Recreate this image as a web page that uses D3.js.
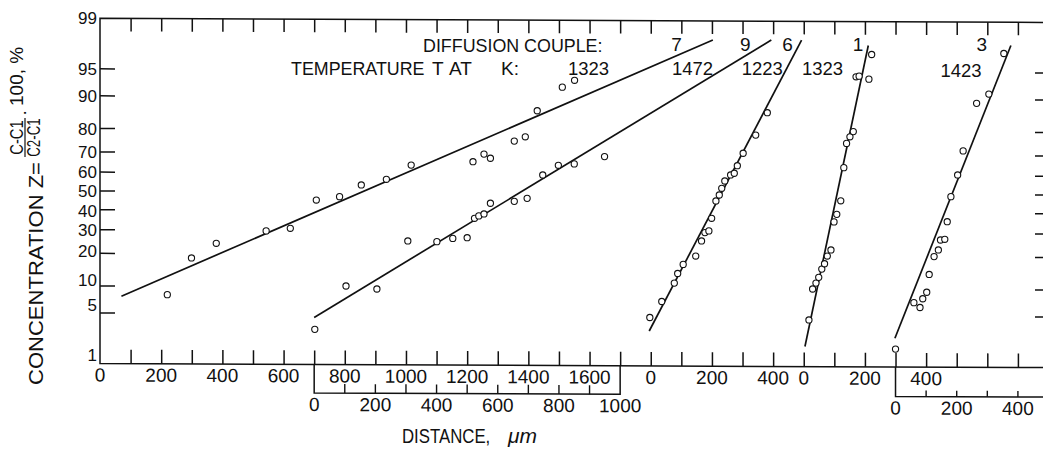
<!DOCTYPE html>
<meta charset="utf-8">
<style>
    body {
        margin: 0;
        background-color: #fff;
    }

    svg text {
        font-family: "Liberation Sans", Arial, sans-serif;
        fill: #111;
    }

    .frame {
        fill: none;
        stroke: #111;
        stroke-width: 1.5px;
    }

    .fit {
        fill: none;
        stroke: #111;
        stroke-width: 1.7px;
    }

    .pt {
        fill: #fff;
        stroke: #111;
        stroke-width: 1.1px;
    }
</style>

<body>
    <svg width="1043" height="454"></svg>
</body>
<script src="https://d3js.org/d3.v7.min.js"></script>
<script>
    // couples and their temperatures (K)
    var couples = ["7", "9", "6", "1", "3"];
    var temps = ["1323", "1472", "1223", "1323", "1423"];

    // where each couple's distance axis starts on the long axis (um)
    var axisStart = [0, 700, 1800, 2300, 2600];

    // measured points [distance um, Z %]
    var couple7 = [[220, 8.1], [299, 18.3], [380, 24.0], [543, 29.5], [622, 30.7], [707, 45.1], [783, 46.9],
        [854, 53.2], [936, 56.2], [1017, 63.6], [1219, 65.3], [1255, 69.0], [1276, 67.0], [1354, 74.9],
        [1390, 76.7], [1429, 86.0], [1511, 91.9], [1551, 93.2]];
    var couple9 = [[2, 3.1], [104, 10.0], [205, 9.3], [306, 25.0], [401, 24.7], [453, 26.1], [500, 26.4],
        [524, 35.6], [538, 36.8], [555, 37.8], [576, 43.4], [654, 44.4], [696, 46.0], [747, 58.5],
        [798, 63.5], [850, 64.2], [949, 67.8]];
    var couple6 = [[-3, 4.4], [36, 6.8], [77, 10.7], [88, 13.3], [106, 16.1], [147, 19.0], [166, 25.0],
        [177, 28.7], [190, 29.5], [199, 35.6], [213, 44.6], [224, 47.8], [232, 51.4], [242, 55.3],
        [261, 58.5], [273, 59.4], [283, 63.3], [302, 69.4], [343, 77.4], [381, 85.4]];
    var couple1 = [[17, 4.1], [29, 9.3], [40, 10.7], [49, 12.2], [59, 14.6], [68, 16.3], [77, 19.0],
        [89, 21.3], [99, 33.8], [108, 37.6], [121, 44.7], [131, 62.3], [140, 73.9], [151, 76.7],
        [162, 78.8], [171, 93.8], [181, 93.9], [213, 93.4], [222, 96.7]];
    var couple3 = [[0, 1.65], [60, 6.6], [80, 5.8], [89, 7.3], [102, 8.6], [110, 13.0], [126, 18.8],
        [140, 21.3], [147, 25.4], [161, 25.7], [169, 33.9], [181, 46.9], [203, 58.5], [221, 70.5],
        [265, 88.1], [305, 90.4], [354, 96.8]];

    // straight lines drawn through each set
    var fit7 = [[70, 7.8], [2003, 97.9]];
    var fit9 = [[0, 4.4], [1494, 97.9]];
    var fit6 = [[-5, 2.95], [493, 97.9]];
    var fit1 = [[4, 1.8], [211, 97.5]];
    var fit3 = [[-2, 2.35], [377, 97.5]];

    // tick labels
    var yTicks = [1, 5, 10, 20, 30, 40, 50, 60, 70, 80, 90, 95, 99];
    var mainLabels = [[0, [0, 200, 400, 600, 800, 1000, 1200, 1400, 1600]], [1800, [0, 200, 400]], [2300, [0, 200, 400]]];
    var lowerLabels = [[700, [0, 200, 400, 600, 800, 1000]], [2600, [0, 200, 400]]];

    var points = [couple7, couple9, couple6, couple1, couple3];
    var fits = [fit7, fit9, fit6, fit1, fit3];

    // inverse normal cdf (Acklam)
    function probit(p) {
        var a = [-3.969683028665376e+01, 2.209460984245205e+02, -2.759285104469687e+02, 1.383577518672690e+02, -3.066479806614716e+01, 2.506628277459239e+00],
            b = [-5.447609879822406e+01, 1.615858368580409e+02, -1.556989798598866e+02, 6.680131188771972e+01, -1.328068155288572e+01],
            c = [-7.784894002430293e-03, -3.223964580411365e-01, -2.400758277161838e+00, -2.549732539343734e+00, 4.374664141464968e+00, 2.938163982698783e+00],
            d = [7.784695709041462e-03, 3.224671290700398e-01, 2.445134137142996e+00, 3.754408661907416e+00];
        var q, r;
        if (p < 0.02425) {
            q = Math.sqrt(-2 * Math.log(p));
            return (((((c[0] * q + c[1]) * q + c[2]) * q + c[3]) * q + c[4]) * q + c[5]) / ((((d[0] * q + d[1]) * q + d[2]) * q + d[3]) * q + 1);
        }
        if (p > 1 - 0.02425) {
            q = Math.sqrt(-2 * Math.log(1 - p));
            return -(((((c[0] * q + c[1]) * q + c[2]) * q + c[3]) * q + c[4]) * q + c[5]) / ((((d[0] * q + d[1]) * q + d[2]) * q + d[3]) * q + 1);
        }
        q = p - 0.5;
        r = q * q;
        return (((((a[0] * r + a[1]) * r + a[2]) * r + a[3]) * r + a[4]) * r + a[5]) * q / (((((b[0] * r + b[1]) * r + b[2]) * r + b[3]) * r + b[4]) * r + 1);
    }

    var svg = d3.select("svg");

    var x = d3.scaleLinear().domain([0, 3082]).range([100, 1043]);
    var yz = d3.scaleLinear().domain([probit(0.01), probit(0.99)]).range([363.5, 18.3]);
    var y = function(p) { return yz(probit(p / 100)); };

    var yTop = y(99), yBottom = y(1);

    // the printed frame sits very slightly askew on the page
    var axes = svg.append("g")
        .attr("transform", "translate(100,0) skewY(0.25) translate(-100,0)");

    // frame: left axis, top and bottom lines
    axes.append("path")
        .attr("class", "frame")
        .attr("d", "M1043," + yTop + "H" + x(0) + "V" + yBottom + "H1043");

    var mainTicks = d3.range(100, 3001, 100);

    // bottom ticks (up) and top ticks (down)
    axes.append("g").attr("transform", "translate(0," + yBottom + ")")
        .call(d3.axisTop(x).tickValues(mainTicks).tickSize(14).tickSizeOuter(0).tickFormat(""))
        .call(function(g) { g.select(".domain").remove(); })
        .selectAll("line").attr("stroke", "#111").attr("stroke-width", 1.5);

    axes.append("g").attr("transform", "translate(0," + yTop + ")")
        .call(d3.axisBottom(x).tickValues(mainTicks).tickSize(13).tickSizeOuter(0).tickFormat(""))
        .call(function(g) { g.select(".domain").remove(); })
        .selectAll("line").attr("stroke", "#111").attr("stroke-width", 1.5);

    // lower brackets for couples 9 and 3
    var lowerY = [392, 393];
    var lowerEnd = [1700, 3082];
    var lowerTick = [9, 6];
    lowerLabels.forEach(function(l, i) {
        var x0 = l[0], x1 = lowerEnd[i], ly = lowerY[i];
        var dd = "M" + x(x0) + "," + yBottom + "V" + ly + "H" + x(x1);
        if (x1 < 3000) dd += "V" + yBottom;
        axes.append("path").attr("class", "frame").attr("d", dd);
        axes.append("g").selectAll("line")
            .data(d3.range(x0 + 100, Math.min(x1, 3000) + 1, 100).filter(function(v) { return v < x1; }))
            .enter().append("line")
            .attr("x1", function(d) { return x(d); }).attr("x2", function(d) { return x(d); })
            .attr("y1", ly).attr("y2", ly - lowerTick[i])
            .attr("stroke", "#111").attr("stroke-width", 1.4);
        axes.append("g").selectAll("text")
            .data(l[1]).enter().append("text")
            .attr("x", function(d) { return x(x0 + d); })
            .attr("y", ly + 18)
            .attr("text-anchor", "middle")
            .style("font-size", "19px")
            .text(function(d) { return d; });
    });

    mainLabels.forEach(function(l) {
        axes.append("g").selectAll("text")
            .data(l[1]).enter().append("text")
            .attr("x", function(d) { return x(l[0] + d); })
            .attr("y", yBottom + 18)
            .attr("text-anchor", "middle")
            .style("font-size", "19px")
            .text(function(d) { return d; });
    });

    // y ticks both sides
    var inner = yTicks.filter(function(p) { return p > 1 && p < 99; });
    axes.append("g").selectAll("line").data(inner).enter().append("line")
        .attr("x1", x(0)).attr("x2", x(0) + 15)
        .attr("y1", y).attr("y2", y)
        .attr("stroke", "#111").attr("stroke-width", 1.5);
    axes.append("g").selectAll("line").data(inner).enter().append("line")
        .attr("x1", 1035).attr("x2", 1043)
        .attr("y1", y).attr("y2", y)
        .attr("stroke", "#111").attr("stroke-width", 1.5);

    // labels in the crowded middle are spread a touch so they don't collide
    var nudge = { 1: -9, 5: -8, 10: -6, 20: -2, 60: -0.7, 40: 0.7 };
    svg.append("g").selectAll("text").data(yTicks).enter().append("text")
        .attr("x", 97)
        .attr("y", function(d) { return y(d) + (nudge[d] || 0); })
        .attr("dy", "0.36em")
        .attr("text-anchor", "end")
        .style("font-size", "17px")
        .text(function(d) { return d; });

    // fitted lines and points
    var line = d3.line()
        .x(function(d) { return d[0]; })
        .y(function(d) { return d[1]; });

    fits.forEach(function(f, i) {
        svg.append("path")
            .attr("class", "fit")
            .attr("d", line(f.map(function(d) { return [x(axisStart[i] + d[0]), y(d[1])]; })));
    });

    points.forEach(function(ps, i) {
        svg.append("g").selectAll("circle").data(ps).enter().append("circle")
            .attr("class", "pt")
            .attr("cx", function(d) { return x(axisStart[i] + d[0]); })
            .attr("cy", function(d) { return y(d[1]); })
            .attr("r", 3.1);
    });

    // narrow lettering: squeeze horizontally around the start point
    function narrow(tx, ty, sx, size, str) {
        return svg.append("text")
            .attr("transform", "translate(" + tx + "," + ty + ") scale(" + sx + ",1)")
            .style("font-size", size)
            .text(str);
    }

    // legend block
    narrow(423, 52, 0.94, "19px", "DIFFUSION COUPLE:");
    narrow(291, 75, 0.94, "19px", "TEMPERATURE");
    svg.append("text").attr("x", 432).attr("y", 75).style("font-size", "19px").text("T");
    svg.append("text").attr("x", 449).attr("y", 75).style("font-size", "19px").text("AT");
    svg.append("text").attr("x", 501).attr("y", 75).style("font-size", "19px").text("K:");

    var coupleX = [676.5, 745.3, 787.5, 858, 981.8];
    var tempX = [588.5, 692.5, 762.3, 822.5, 961];
    svg.append("g").selectAll("text").data(couples).enter().append("text")
        .attr("x", function(d, i) { return coupleX[i]; })
        .attr("y", 51)
        .attr("text-anchor", "middle")
        .style("font-size", "19px")
        .text(function(d) { return d; });
    svg.append("g").selectAll("text").data(temps).enter().append("text")
        .attr("x", function(d, i) { return tempX[i]; })
        .attr("y", function(d, i) { return i === 4 ? 76.5 : 75; })
        .attr("text-anchor", "middle")
        .style("font-size", "18.5px")
        .text(function(d) { return d; });

    // y title
    var yt = svg.append("g").attr("transform", "translate(43,385) rotate(-90)");
    yt.append("text").attr("x", 0).attr("y", 0).style("font-size", "21px")
        .attr("textLength", 223).attr("lengthAdjust", "spacingAndGlyphs").text("CONCENTRATION Z=");
    yt.append("line").attr("x1", 228).attr("x2", 267).attr("y1", -18).attr("y2", -18)
        .attr("stroke", "#111").attr("stroke-width", 1.2);
    yt.append("text").attr("transform", "translate(247.5,-20) scale(0.82,1)")
        .attr("text-anchor", "middle").style("font-size", "18px").text("C-C1");
    yt.append("text").attr("transform", "translate(247.5,-3) scale(0.74,1)")
        .attr("text-anchor", "middle").style("font-size", "18px").text("C2-C1");
    yt.append("text").attr("x", 269).attr("y", -13).style("font-size", "19px").text("·");
    yt.append("text").attr("x", 279).attr("y", -20).style("font-size", "19px").text("100, %");

    // x title
    narrow(402, 443, 0.8, "21px", "DISTANCE,");
    svg.append("text").attr("x", 508).attr("y", 443).style("font-size", "21px")
        .style("font-style", "italic").text("μm");
</script>
